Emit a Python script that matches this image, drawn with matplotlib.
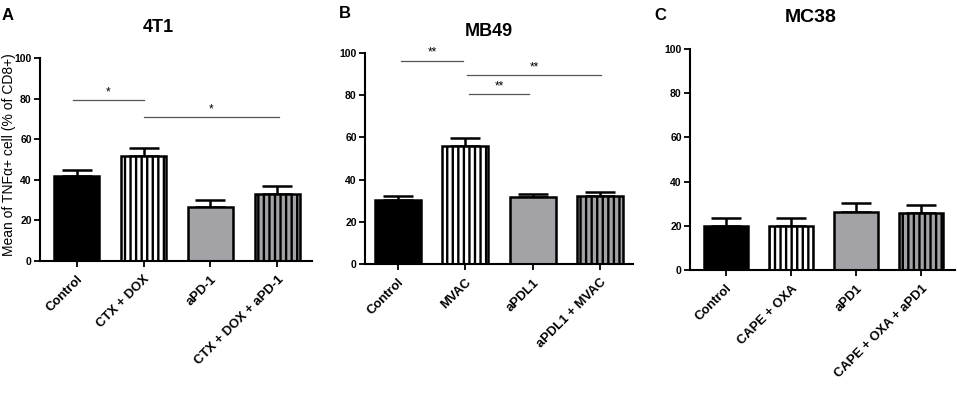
import matplotlib
matplotlib.use("Agg")
import matplotlib.pyplot as plt

plt.rcParams['font.family'] = ['Liberation Sans', 'DejaVu Sans']
plt.rcParams['hatch.linewidth'] = 1.7

# ---------------- data ----------------
titles = ["4T1", "MB49", "MC38"]
panel_letters = ["A", "B", "C"]

cats_a = ["Control", "CTX + DOX", "aPD-1", "CTX + DOX + aPD-1"]
vals_a = [42, 51.7, 26.7, 33]
errs_a = [3, 4.2, 3.5, 4]

cats_b = ["Control", "MVAC", "aPDL1", "aPDL1 + MVAC"]
vals_b = [30.1, 55.9, 31.6, 32.2]
errs_b = [1.9, 3.6, 1.8, 2.0]

cats_c = ["Control", "CAPE + OXA", "aPD1", "CAPE + OXA + aPD1"]
vals_c = [19.8, 20.0, 26.3, 26.0]
errs_c = [3.9, 3.6, 3.8, 3.2]

# significance brackets: (start, end, y level, label)
sig_a = [(-0.05, 1.0, 79.3, "*"), (1.0, 3.03, 71, "*")]
sig_b = [(0.05, 0.97, 96.4, "**"), (1.02, 3.02, 89.6, "**"), (1.05, 1.95, 80.6, "**")]
sig_c = []

ylabel = "Mean of TNF\u03b1+ cell (% of CD8+)"
yticks = [0, 20, 40, 60, 80, 100]

# ---------------- style ----------------
gray = "#a3a3a7"
facecolors = ["black", "white", gray, gray]
hatches = [None, "|||", None, "|||"]

fig = plt.figure(figsize=(9.57, 3.95), dpi=100)

positions = [
    [40/957, 1-261/395, (312-40)/957, (261-58)/395],
    [365/957, 1-264/395, (633-365)/957, (264-53)/395],
    [690/957, 1-270/395, (955-690)/957, (270-49)/395],
]
xlims = [(-0.55, 3.52), (-0.49, 3.49), (-0.55, 3.52)]
title_y = [28, 32, 17]
title_x = [158, 489, 811]
title_size = [13, 13, 14]
letter_pos = [(8, 15), (345, 13), (660, 15)]

datasets = [(cats_a, vals_a, errs_a, sig_a),
            (cats_b, vals_b, errs_b, sig_b),
            (cats_c, vals_c, errs_c, sig_c)]

for i, (cats, vals, errs, sigs) in enumerate(datasets):
    ax = fig.add_axes(positions[i])
    x = list(range(len(cats)))
    bars = ax.bar(x, vals, width=0.68, color=facecolors, edgecolor="black",
                  linewidth=1.8, zorder=2)
    for b, h in zip(bars, hatches):
        if h:
            b.set_hatch(h)
    ax.errorbar(x, vals, yerr=[[0]*len(errs), errs], fmt="none", ecolor="black",
                elinewidth=1.8, capsize=11, capthick=1.8, zorder=1)
    ax.set_ylim(0, 100)
    ax.set_xlim(*xlims[i])
    ax.set_yticks(yticks)
    ax.set_yticklabels([str(t) for t in yticks], fontsize=7.5, fontweight="bold")
    ax.set_xticks(x)
    ax.set_xticklabels(cats, rotation=45, ha="right", rotation_mode="anchor",
                       fontsize=9.4, fontweight="bold")
    ax.tick_params(axis="both", direction="out", length=4, width=1.3, pad=2)
    ax.tick_params(axis="x", pad=5)
    for s in ["top", "right"]:
        ax.spines[s].set_visible(False)
    for s in ["left", "bottom"]:
        ax.spines[s].set_linewidth(1.5)
    for (s0, s1, yl, lab) in sigs:
        ax.plot([s0, s1], [yl, yl], color="#555555", lw=0.9, clip_on=False)
        ax.text((s0 + s1) / 2, yl + 0.8, lab, ha="center", va="bottom",
                fontsize=8.5, color="black")
    fig.text(title_x[i] / 957, 1 - title_y[i] / 395,
             titles[i], ha="center", va="center", fontsize=title_size[i],
             fontweight="bold")
    lx, ly = letter_pos[i]
    fig.text(lx / 957, 1 - ly / 395, panel_letters[i], ha="center", va="center",
             fontsize=12, fontweight="bold")

fig.text(9 / 957, 1 - 155 / 395, ylabel, rotation=90, ha="center", va="center",
         fontsize=10)

fig.savefig("out.png", dpi=100)
